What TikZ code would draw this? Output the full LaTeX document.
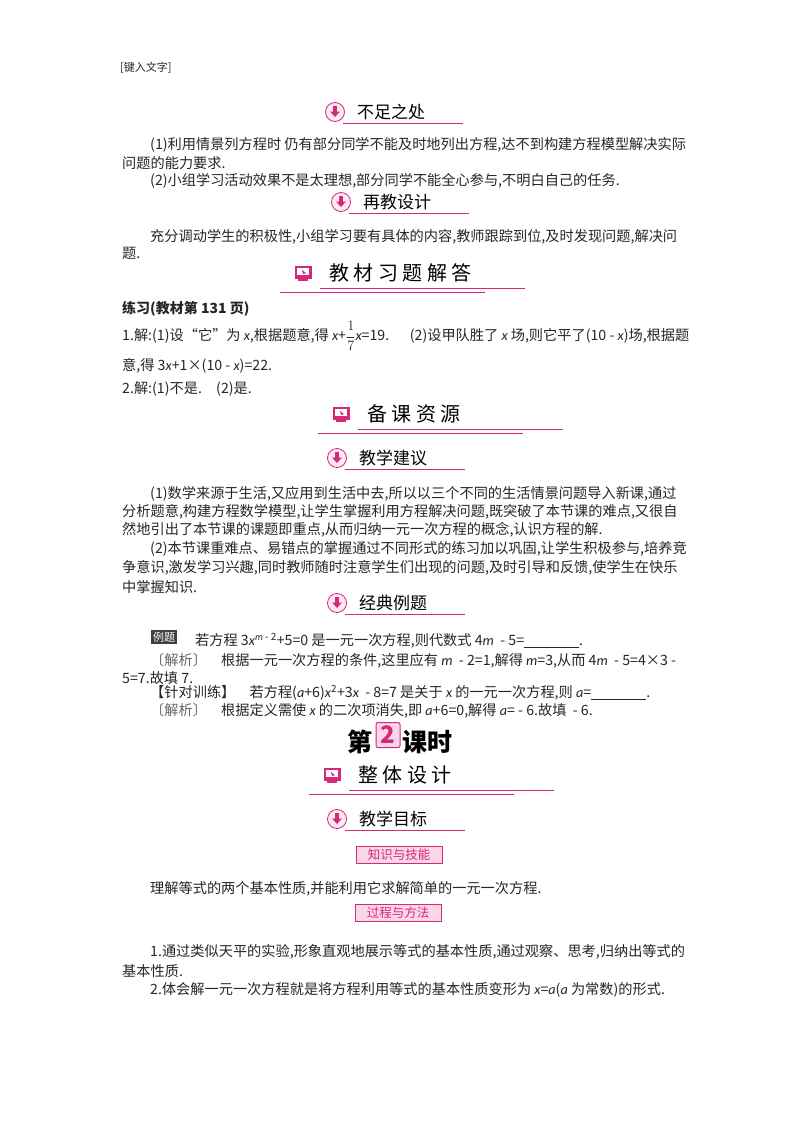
\documentclass[tikz,border=0pt]{standalone}
\usepackage{fontspec}
\setmainfont{Noto Sans CJK SC}
\newfontfamily\lat{Carlito}
\newcommand\iv[1]{{\lat\itshape #1}}
\definecolor{mag}{RGB}{214,40,122}
\definecolor{lpink}{RGB}{250,215,230}
\begin{document}
\begin{tikzpicture}[x=1pt,y=-1pt,
  txt/.style={anchor=west,inner sep=0,font=\fontsize{14.2}{15}\selectfont,text=black!85},
  hd/.style={anchor=west,inner sep=0,font=\fontsize{17}{18}\selectfont},
  bhd/.style={anchor=west,inner sep=0,font=\fontsize{20}{21}\selectfont},
  ul/.style={mag,line width=0.9pt},
  tag/.style={draw=mag,fill=lpink,text=mag,inner sep=2pt,minimum width=86pt,minimum height=17pt,font=\fontsize{12.5}{12.5}\selectfont}]
\usetikzlibrary{calc}
\useasboundingbox (0,0) rectangle (800,1132);
\fill[white] (0,0) rectangle (800,1132);
\newcommand\sh[4]{%
 \node[circle,draw=mag,fill=lpink!50,minimum size=19pt,inner sep=0,line width=0.8pt] (#4) at (#1,#2) {};
 \fill[mag] ($(#4)+(-1.6,-6)$) rectangle ($(#4)+(1.6,0)$);
 \fill[mag] ($(#4)+(-5,-0.5)$) -- ($(#4)+(5,-0.5)$) -- ($(#4)+(0,5)$) -- cycle;
 \node[hd] (#4t) at (#1+22,#2) {#3};
 \draw[ul] (#1+8,#2+11) -- (#1+128,#2+11);}
\newcommand\bh[4]{%
 \node[fill=mag,minimum width=17pt,minimum height=13pt,inner sep=0] (#4) at (#1,#2-1) {};
 \fill[white] ($(#4)+(-6,-4)$) rectangle ($(#4)+(6,3)$);
 \fill[mag] ($(#4)+(-1,-2)$) -- ($(#4)+(3,1)$) -- ($(#4)+(0,2)$) -- cycle;
 \fill[mag] ($(#4)+(-5,7)$) rectangle ($(#4)+(5,8.5)$);
 \node[bhd] (#4t) at (#1+26,#2) {#3};
 \draw[ul] (#1+17,#2+15) -- (#1+222,#2+15);
 \draw[ul,line width=0.6pt] (#1-23,#2+19) -- (#1+182,#2+19);}
\node[txt,font=\fontsize{11}{12}\selectfont] (top) at (120,68) {[键入文字]};
\sh{335}{112}{不足之处}{h1}
\node[txt] (p1) at (150,145) {(1)利用情景列方程时 仍有部分同学不能及时地列出方程,达不到构建方程模型解决实际};
\node[txt] (p2) at (122,163) {问题的能力要求.};
\node[txt] (p3) at (150,181) {(2)小组学习活动效果不是太理想,部分同学不能全心参与,不明白自己的任务.};
\sh{341}{202}{再教设计}{h2}
\node[txt] (p4) at (150,237) {充分调动学生的积极性,小组学习要有具体的内容,教师跟踪到位,及时发现问题,解决问};
\node[txt] (p5) at (122,253) {题.};
\bh{303}{273}{教\ 材\ 习\ 题\ 解\ 答}{b1}
\node[txt,font=\fontsize{14}{14}\selectfont\bfseries] (p6) at (122,309) {练习(教材第 131 页)};
\node[txt] (p7) at (122,336) {1.解:(1)设“它”为 \iv{x},根据题意,得 \iv{x}+$\displaystyle\frac{1}{7}$\iv{x}=19.\quad\ \ (2)设甲队胜了 \iv{x} 场,则它平了(10 - \iv{x})场,根据题};
\node[txt] (p8) at (122,366) {意,得 3\iv{x}+1×(10 - \iv{x})=22.};
\node[txt] (p9) at (122,389) {2.解:(1)不是.\quad (2)是.};
\bh{341}{414}{备\ 课\ 资\ 源}{b2}
\sh{337}{458}{教学建议}{h3}
\node[txt] (q1) at (150,494) {(1)数学来源于生活,又应用到生活中去,所以以三个不同的生活情景问题导入新课,通过};
\node[txt] (q2) at (122,512) {分析题意,构建方程数学模型,让学生掌握利用方程解决问题,既突破了本节课的难点,又很自};
\node[txt] (q3) at (122,530) {然地引出了本节课的课题即重点,从而归纳一元一次方程的概念,认识方程的解.};
\node[txt] (q4) at (150,549) {(2)本节课重难点、易错点的掌握通过不同形式的练习加以巩固,让学生积极参与,培养竞};
\node[txt] (q5) at (122,568) {争意识,激发学习兴趣,同时教师随时注意学生们出现的问题,及时引导和反馈,使学生在快乐};
\node[txt] (q6) at (122,587) {中掌握知识.};
\sh{337}{603}{经典例题}{h4}
\node[fill=black!75,text=white,inner sep=2pt,font=\fontsize{11}{11}\selectfont] (lt) at (164,637) {例题};
\node[txt] (e1) at (195,641) {若方程 3\iv{x}\textsuperscript{\iv{m} - 2}+5=0 是一元一次方程,则代数式 4\iv{m}\ \ - 5=\underline{\hspace{55pt}}.};
\node[txt] (e2) at (150,661) {{\color{black!60}〔解析〕}\quad 根据一元一次方程的条件,这里应有 \iv{m}\ \ - 2=1,解得 \iv{m}=3,从而 4\iv{m}\ \ - 5=4×3 -};
\node[txt] (e3) at (122,678) {5=7.故填 7.};
\node[txt] (e4) at (150,693) {【针对训练】\quad 若方程(\iv{a}+6)\iv{x}\textsuperscript{2}+3\iv{x}\ \ - 8=7 是关于 \iv{x} 的一元一次方程,则 \iv{a}=\underline{\hspace{55pt}}.};
\node[txt] (e5) at (150,711) {{\color{black!60}〔解析〕}\quad 根据定义需使 \iv{x} 的二次项消失,即 \iv{a}+6=0,解得 \iv{a}= - 6.故填\ \ - 6.};
\node[anchor=east,inner sep=0,font=\fontsize{25}{26}\selectfont\bfseries] (d1) at (373,742) {第};
\node[draw=mag,fill=lpink,line width=1pt,rounded corners=2pt,minimum width=24pt,minimum height=25pt,inner sep=0,text=mag,font=\fontsize{24}{24}\selectfont\bfseries] (d2) at (388,735) {2};
\node[anchor=west,inner sep=0,font=\fontsize{25}{26}\selectfont\bfseries] (d3) at (402,742) {课时};
\bh{332}{775}{整\ 体\ 设\ 计}{b3}
\sh{337}{819}{教学目标}{h5}
\node[tag] (t1) at (399,855) {知识与技能};
\node[txt] (r1) at (150,889) {理解等式的两个基本性质,并能利用它求解简单的一元一次方程.};
\node[tag] (t2) at (398,913) {过程与方法};
\node[txt] (r2) at (150,952) {1.通过类似天平的实验,形象直观地展示等式的基本性质,通过观察、思考,归纳出等式的};
\node[txt] (r3) at (122,971) {基本性质.};
\node[txt] (r4) at (150,990) {2.体会解一元一次方程就是将方程利用等式的基本性质变形为 \iv{x}=\iv{a}(\iv{a} 为常数)的形式.};
\end{tikzpicture}
\end{document}
